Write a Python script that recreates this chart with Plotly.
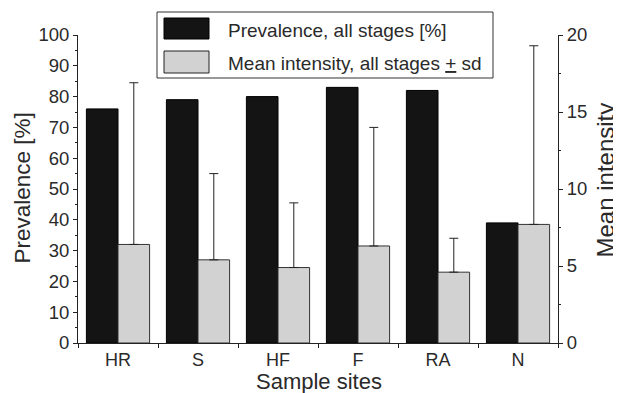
import plotly.graph_objects as go

sites = ["HR", "S", "HF", "F", "RA", "N"]
prevalence = [76, 79, 80, 83, 82, 39]
mean_intensity = [6.4, 5.4, 4.9, 6.3, 4.6, 7.7]
intensity_sd = [10.5, 5.6, 4.2, 7.7, 2.2, 11.6]
legend_labels = ["Prevalence, all stages [%]", "Mean intensity, all stages <u>+</u> sd"]
axis_titles = {"x": "Sample sites", "y": "Prevalence [%]", "y2": "Mean intensity"}

FONT = "Arial, Liberation Sans, sans-serif"
BLACK = "#141414"
GREY = "#d2d2d2"
TXT = "#2a2a2a"
W = 0.395

# plot area in page pixels (page has an 8px body margin)
PX0, PX1, PY0, PY1 = 78, 558, 35, 343


def px(x):
    return (x - PX0) / (PX1 - PX0)


def py(y):
    return (PY1 - y) / (PY1 - PY0)


fig = go.Figure()
fig.add_trace(go.Bar(
    x=sites, y=prevalence, width=W, offset=-W,
    marker=dict(color=BLACK, line=dict(color="#000", width=1)),
    name=legend_labels[0], showlegend=False, yaxis="y",
))
fig.add_trace(go.Bar(
    x=sites, y=mean_intensity, width=W, offset=0,
    marker=dict(color=GREY, line=dict(color="#333", width=1)),
    error_y=dict(type="data", symmetric=False, array=intensity_sd,
                 arrayminus=[0] * len(sites), color="#222", thickness=1, width=4.5),
    name=legend_labels[1], showlegend=False, yaxis="y2",
))

# legend drawn as a boxed key
shapes = [
    dict(type="rect", xref="paper", yref="paper", x0=px(157), x1=px(493),
         y0=py(78), y1=py(12), line=dict(color="#333", width=1), fillcolor="white"),
    dict(type="rect", xref="paper", yref="paper", x0=px(164), x1=px(209),
         y0=py(39), y1=py(18), line=dict(color="#000", width=1), fillcolor=BLACK),
    dict(type="rect", xref="paper", yref="paper", x0=px(164), x1=px(209),
         y0=py(73), y1=py(51), line=dict(color="#222", width=1), fillcolor=GREY),
]
annotations = [
    dict(xref="paper", yref="paper", x=px(226), y=py(30), xanchor="left",
         yanchor="middle", text=legend_labels[0], showarrow=False, font=dict(size=19, color=TXT)),
    dict(xref="paper", yref="paper", x=px(226), y=py(63), xanchor="left",
         yanchor="middle", text=legend_labels[1], showarrow=False, font=dict(size=19, color=TXT)),
    # axis titles
    dict(xref="paper", yref="paper", x=px(319), y=py(381), xanchor="center",
         yanchor="middle", text=axis_titles["x"], showarrow=False, font=dict(size=22, color=TXT)),
    dict(xref="paper", yref="paper", x=px(22), y=py(188.5), xanchor="center",
         yanchor="middle", text=axis_titles["y"], textangle=-90, showarrow=False,
         font=dict(size=22.5, color=TXT)),
    dict(xref="paper", yref="paper", x=px(605), y=py(180.5), xanchor="center",
         yanchor="middle", text=axis_titles["y2"], textangle=-90, showarrow=False,
         font=dict(size=24, color=TXT)),
]

fig.update_layout(
    width=613, height=385,
    margin=dict(l=70, r=63, t=27, b=50),
    paper_bgcolor="white", plot_bgcolor="white",
    font=dict(family=FONT, size=18, color=TXT),
    showlegend=False,
    shapes=shapes, annotations=annotations,
    xaxis=dict(
        showline=True, linecolor="#222", linewidth=1,
        ticks="outside", tickson="boundaries", ticklen=4, tickcolor="#222",
        tickfont=dict(size=18), showgrid=False, automargin=False,
    ),
    yaxis=dict(
        range=[0, 100], dtick=10, showline=True, linecolor="#222", linewidth=1,
        ticks="outside", ticklen=4, tickcolor="#222", showgrid=False, zeroline=False,
        minor=dict(dtick=5, ticks="outside", ticklen=2, tickcolor="#222"),
        tickfont=dict(size=18.5), automargin=False,
    ),
    yaxis2=dict(
        range=[0, 20], dtick=5, overlaying="y", side="right",
        showline=True, linecolor="#222", linewidth=1,
        ticks="outside", ticklen=4, tickcolor="#222", showgrid=False, zeroline=False,
        minor=dict(dtick=2.5, ticks="outside", ticklen=2, tickcolor="#222"),
        tickfont=dict(size=18.5), automargin=False,
    ),
)

fig.write_html("out.html")
